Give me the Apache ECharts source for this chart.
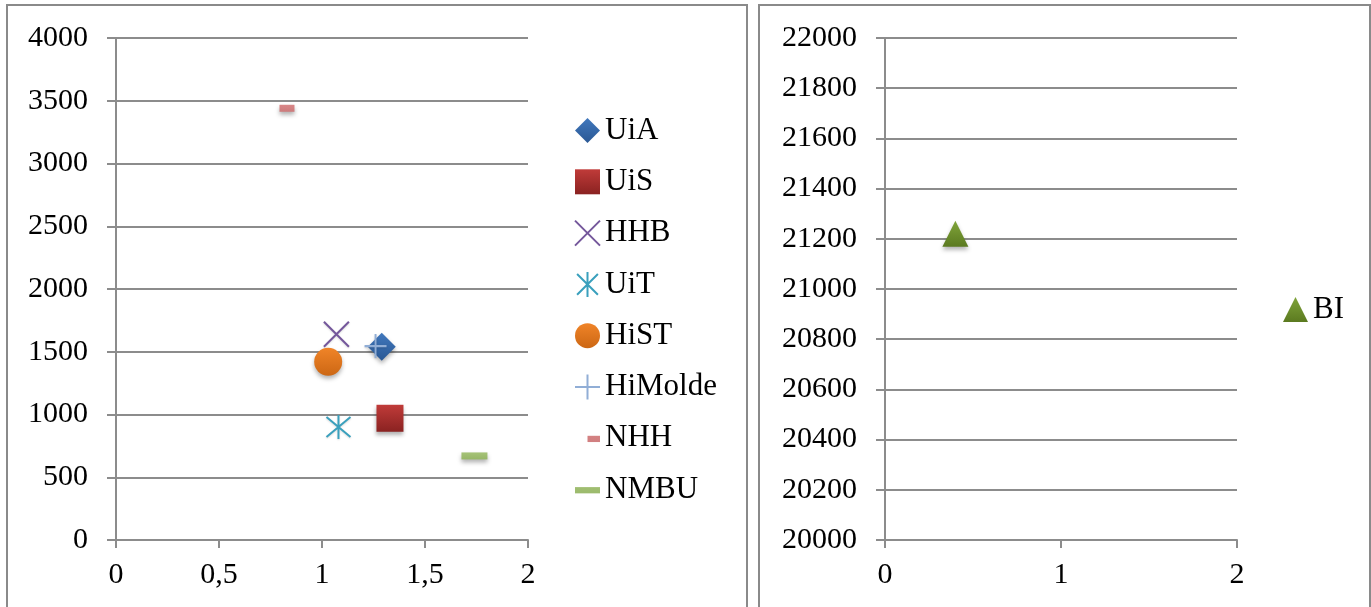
<!DOCTYPE html>
<html>
<head>
<meta charset="utf-8">
<title>Scatter</title>
<script src="https://cdn.jsdelivr.net/npm/echarts@6/dist/echarts.min.js"></script>
<style>
    html, body { margin: 0; padding: 0; background: #fff; }
    #main { width: 1371px; height: 607px; }
</style>
</head>
<body>
<div id="main"></div>
<script>
//左图 数据
var leftNames = ['UiA', 'UiS', 'HHB', 'UiT', 'HiST', 'HiMolde', 'NHH', 'NMBU'];
var leftX = [1.29, 1.33, 1.07, 1.08, 1.03, 1.26, 0.83, 1.74];
var leftY = [1540, 970, 1640, 900, 1420, 1545, 3440, 670];
//右图 数据
var rightNames = ['BI'];
var rightX = [0.4];
var rightY = [21220];

//标记样式
var markers = {
    UiA: {symbol: 'diamond', size: [28, 28], grad: ['#4178bd', '#2a5894']},
    UiS: {symbol: 'rect', size: [27, 27], grad: ['#c03b39', '#8a2221']},
    HHB: {symbol: 'path://M0,0L10,10M10,0L0,10', size: [25, 25], stroke: '#74579b'},
    UiT: {symbol: 'path://M0,0L10,10M10,0L0,10M5,-1L5,11', size: [24, 24], stroke: '#3aa0bd'},
    HiST: {symbol: 'circle', size: [28, 28], grad: ['#f08428', '#cc6714']},
    HiMolde: {symbol: 'path://M0,5L10,5M5,0L5,10', size: [22, 24], stroke: '#91aed6'},
    NHH: {symbol: 'rect', size: [15, 7], grad: ['#d98788', '#cc7a7b']},
    NMBU: {symbol: 'rect', size: [26, 7], grad: ['#a6c378', '#97b667']},
    BI: {symbol: 'triangle', size: [26, 26], grad: ['#80a43a', '#5b7a20']}
};
//图例图标(带留白)
var legendIcons = {
    NHH: 'path://M0,0M20,20M10,8L20,8L20,13L10,13Z',
    NMBU: 'path://M0,0M20,20M0,8L20,8L20,13L0,13Z'
};

var font = 'Liberation Serif, Times New Roman, serif';
var grey = '#8c8c8c';

//生成散点系列
function makeSeries(names, xs, ys, idx) {
    return names.map(function (name, i) {
        var m = markers[name];
        var style = {
            opacity: 1,
            shadowBlur: 4,
            shadowOffsetY: 3,
            shadowColor: 'rgba(0,0,0,0.3)'
        };
        if (m.stroke) {
            style.color = 'rgba(0,0,0,0)';
            style.borderColor = m.stroke;
            style.borderWidth = 2;
            style.shadowBlur = 2;
            style.shadowOffsetY = 1;
            style.shadowColor = 'rgba(0,0,0,0.15)';
        } else {
            style.color = {
                type: 'linear', x: 0, y: 0, x2: 0, y2: 1,
                colorStops: [{offset: 0, color: m.grad[0]}, {offset: 1, color: m.grad[1]}]
            };
        }
        return {
            name: name,
            type: 'scatter',
            xAxisIndex: idx,
            yAxisIndex: idx,
            symbol: m.symbol,
            symbolSize: m.size,
            itemStyle: style,
            emphasis: {disabled: true},
            data: [[xs[i], ys[i]]]
        };
    });
}

//图例数据
function legendData(names) {
    return names.map(function (name) {
        var item = {name: name};
        if (legendIcons[name]) {
            item.icon = legendIcons[name];
        }
        return item;
    });
}

//坐标轴
function xAxis(grid, interval) {
    return {
        type: 'value', gridIndex: grid, min: 0, max: 2, interval: interval,
        axisLine: {show: true, lineStyle: {color: grey, width: 2}},
        axisTick: {show: true, length: 8, lineStyle: {color: grey, width: 2}},
        splitLine: {show: false},
        axisLabel: {
            margin: 20, color: '#000', fontFamily: font, fontSize: 30,
            formatter: function (v) { return String(v).replace('.', ','); }
        }
    };
}
function yAxis(grid, min, max, interval) {
    return {
        type: 'value', gridIndex: grid, min: min, max: max, interval: interval,
        axisLine: {show: true, lineStyle: {color: grey, width: 2}},
        axisTick: {show: true, length: 9, lineStyle: {color: grey, width: 2}},
        splitLine: {show: true, lineStyle: {color: grey, width: 2}},
        axisLabel: {
            margin: 28, color: '#000', fontFamily: font, fontSize: 30,
            formatter: function (v) { return String(v); }
        }
    };
}

var chart = echarts.init(document.getElementById('main'), null, {renderer: 'canvas'});
chart.setOption({
    animation: false,
    backgroundColor: '#fff',
    textStyle: {fontFamily: font},
    graphic: [
        //边框
        {type: 'rect', shape: {x: 7, y: 5, width: 740, height: 640}, style: {fill: 'none', stroke: '#8a8a8a', lineWidth: 2}, silent: true},
        {type: 'rect', shape: {x: 759, y: 5, width: 611, height: 640}, style: {fill: 'none', stroke: '#8a8a8a', lineWidth: 2}, silent: true}
    ],
    grid: [
        {left: 116, top: 38, width: 412, height: 502},
        {left: 885, top: 38, width: 352, height: 502}
    ],
    xAxis: [xAxis(0, 0.5), xAxis(1, 1)],
    yAxis: [yAxis(0, 0, 4000, 500), yAxis(1, 20000, 22000, 200)],
    legend: [
        {
            orient: 'vertical', left: 569, top: 110, padding: 5,
            itemWidth: 25, itemHeight: 25, itemGap: 20.3,
            selectedMode: false,
            textStyle: {fontFamily: font, fontSize: 31, lineHeight: 30, color: '#000'},
            data: legendData(leftNames)
        },
        {
            orient: 'vertical', left: 1278, top: 289, padding: 5,
            itemWidth: 25, itemHeight: 25,
            selectedMode: false,
            textStyle: {fontFamily: font, fontSize: 31, lineHeight: 30, color: '#000'},
            data: legendData(rightNames)
        }
    ],
    series: makeSeries(leftNames, leftX, leftY, 0).concat(makeSeries(rightNames, rightX, rightY, 1))
});
</script>
</body>
</html>
